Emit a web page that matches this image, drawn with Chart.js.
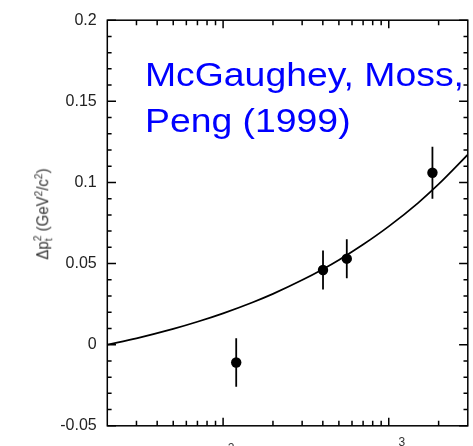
<!DOCTYPE html>
<html>
<head>
<meta charset="utf-8">
<script src="https://cdn.jsdelivr.net/npm/chart.js@4/dist/chart.umd.min.js"></script>
<style>
  html, body { margin: 0; padding: 0; background: #fff; }
  #wrap { position: relative; width: 473px; height: 446px; overflow: hidden; }
  #wrap canvas { position: absolute; left: 0; top: 0; }
  .note {
    position: absolute; left: 144.5px; top: 52px;
    font-family: 'Liberation Sans', Arial, sans-serif; font-size: 33.5px; line-height: 46px;
    color: #0000ff; white-space: nowrap; transform: scaleX(1.115); transform-origin: 0 0;
  }
  .ytitle {
    position: absolute; left: 42.5px; top: 213.5px;
    font-family: 'Liberation Sans', Arial, sans-serif; font-size: 15px; color: #333;
    white-space: nowrap; transform: translate(-50%, -50%) rotate(-90deg) scaleY(1.1);
  }
  .stk { display: inline-block; vertical-align: -0.32em; font-size: 0.68em; line-height: 0.95; text-align: left; }
  .stk span { display: block; }
  .ytitle sup { font-size: 0.68em; vertical-align: 0.55em; line-height: 0; }
</style>
</head>
<body>
<div id="wrap">
  <canvas id="c" width="473" height="446"></canvas>
  <div class="note">McGaughey, Moss,<br>Peng (1999)</div>
  <div class="ytitle">Δp<span class="stk"><span>2</span><span>t</span></span> (GeV<sup>2</sup>/c<sup>2</sup>)</div>
</div>
<script>
// ---- data ----
const pointX   = [120, 401, 558, 1835];
const pointY   = [-0.011, 0.046, 0.053, 0.106];
const pointErr = [0.015, 0.012, 0.012, 0.016];

const curveX = [20, 30, 50, 70, 100, 150, 200, 300, 400, 500, 700, 1000, 1500, 2000, 3000];
const curveY = [0.000, 0.0039, 0.0097, 0.0141, 0.0193, 0.0260, 0.0313, 0.0398, 0.0465, 0.0522, 0.0617, 0.0729, 0.0873, 0.0989, 0.1171];

const yTickLabels = ['-0.05', '0', '0.05', '0.1', '0.15', '0.2'];
const xTickValues = [100, 1000];
const xTickLabels = ['2', '3'];   // visible superscripts of 10^2, 10^3

// ---- build datasets ----
const pts = pointX.map((x, i) => ({ x: x, y: pointY[i] }));
const curve = curveX.map((x, i) => ({ x: x, y: curveY[i] }));
const errs = [];
pointX.forEach((x, i) => {
  errs.push({ x: x, y: pointY[i] - pointErr[i] });
  errs.push({ x: x, y: pointY[i] + pointErr[i] });
  errs.push({ x: x, y: null });
});

const frameTicks = {
  id: 'frameTicks',
  afterDraw(chart) {
    const ctx = chart.ctx, a = chart.chartArea;
    const xs = chart.scales.x, ys = chart.scales.y;
    ctx.save();
    ctx.strokeStyle = '#000';
    ctx.lineWidth = 1.5;
    ctx.strokeRect(a.left, a.top, a.right - a.left, a.bottom - a.top);
    ctx.beginPath();
    for (let k = -5; k <= 20; k++) {
      const py = ys.getPixelForValue(k / 100);
      const len = (k % 5 === 0) ? 8.7 : 4.3;
      ctx.moveTo(a.left, py); ctx.lineTo(a.left + len, py);
      ctx.moveTo(a.right, py); ctx.lineTo(a.right - len, py);
    }
    [10, 100, 1000].forEach(d => {
      for (let m = 1; m <= 9; m++) {
        const v = m * d;
        if (v <= xs.min || v >= xs.max) continue;
        const px = xs.getPixelForValue(v);
        const len = (m === 1) ? 8 : 5;
        ctx.moveTo(px, a.bottom); ctx.lineTo(px, a.bottom - len);
        ctx.moveTo(px, a.top); ctx.lineTo(px, a.top + len);
      }
    });
    ctx.stroke();
    // partially visible x tick labels (superscripts of 10^n)
    ctx.fillStyle = '#333';
    ctx.font = '12px "Liberation Sans", Arial, sans-serif';
    ctx.textAlign = 'center';
    ctx.textBaseline = 'top';
    const offs = [[8, 443], [13, 436.5]];
    xTickValues.forEach((v, i) => {
      ctx.fillText(xTickLabels[i], xs.getPixelForValue(v) + offs[i][0], offs[i][1]);
    });
    ctx.restore();
  }
};

new Chart(document.getElementById('c'), {
  type: 'scatter',
  data: {
    datasets: [
      { data: pts, showLine: false, pointRadius: 5.2, pointBackgroundColor: '#000', pointBorderColor: '#000', pointBorderWidth: 0, order: 0 },
      { data: curve, showLine: true, pointRadius: 0, borderColor: '#000', borderWidth: 1.7, cubicInterpolationMode: 'monotone', order: 1 },
      { data: errs, showLine: true, spanGaps: false, pointRadius: 0, borderColor: '#000', borderWidth: 1.8, order: 2 }
    ]
  },
  options: {
    responsive: false,
    animation: false,
    events: [],
    layout: { padding: { top: 12.7, right: 2.3, left: 0, bottom: 0 } },
    plugins: { legend: { display: false }, tooltip: { enabled: false } },
    scales: {
      x: {
        type: 'logarithmic', min: 20, max: 3000, position: 'bottom',
        ticks: { display: false },
        grid: { display: false, drawTicks: false },
        border: { display: false },
        afterFit(s) { s.height = 18.3; }
      },
      y: {
        type: 'linear', min: -0.05, max: 0.2,
        ticks: {
          stepSize: 0.05, padding: 10.6, color: '#222',
          font: { family: "'Liberation Sans', Arial, sans-serif", size: 16 },
          callback: (v, i) => yTickLabels[i]
        },
        grid: { display: false, drawTicks: false },
        border: { display: false },
        afterFit(s) { s.width = 107.3; }
      }
    }
  },
  plugins: [frameTicks]
});
</script>
</body>
</html>
